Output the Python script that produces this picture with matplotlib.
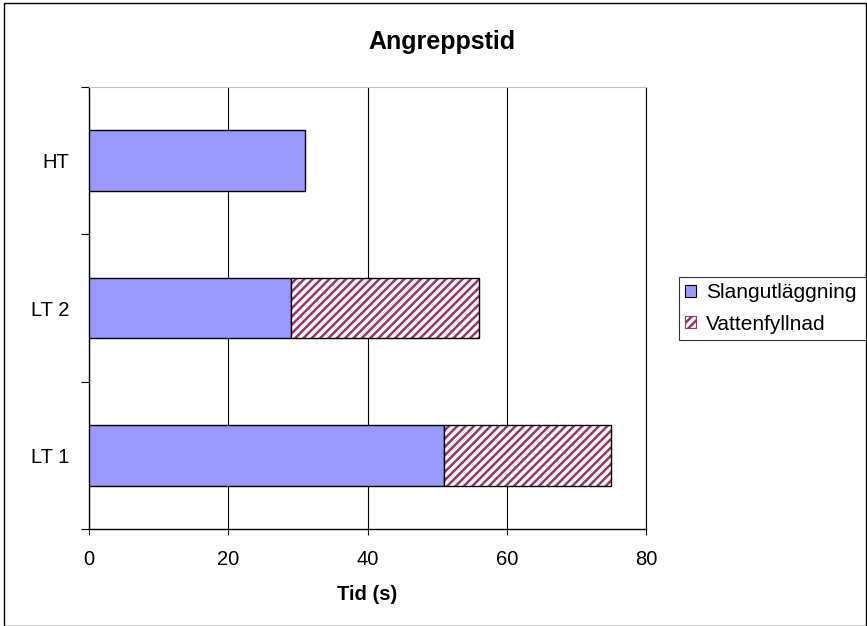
import matplotlib
matplotlib.use("Agg")
import matplotlib.pyplot as plt
from matplotlib.patches import Rectangle, Patch

plt.rcParams['font.family'] = ['Liberation Sans', 'DejaVu Sans']
plt.rcParams['hatch.linewidth'] = 1.8

categories = ['LT 1', 'LT 2', 'HT']
slangutlaggning = [51, 29, 31]
vattenfyllnad = [24, 27, 0]
x_ticks = [0, 20, 40, 60, 80]

blue = '#9999FF'
maroon = '#993366'

fig = plt.figure(figsize=(8.67, 6.26), dpi=100)
ax = fig.add_axes([89 / 867, 97 / 626, (646 - 89) / 867, (529 - 87) / 626])

ypos = list(range(len(categories)))
h = 0.41
ax.barh(ypos, slangutlaggning, height=h, color=blue, edgecolor='black',
        linewidth=1.0, zorder=3)
# hatched part: stripes first, then a black outline on top
ax.barh(ypos, vattenfyllnad, left=slangutlaggning, height=h, color='white',
        edgecolor=maroon, hatch='////', linewidth=0, zorder=3)
for y, l, w in zip(ypos, slangutlaggning, vattenfyllnad):
    if w > 0:
        ax.add_patch(Rectangle((l, y - h / 2), w, h, fill=False,
                               edgecolor='black', linewidth=1.0, zorder=4))

ax.set_xlim(0, 80)
ax.set_ylim(-0.5, len(categories) - 0.5)
ax.set_xticks(x_ticks)
ax.set_xticklabels([str(t) for t in x_ticks], fontsize=14.5)
ax.set_yticks(ypos)
ax.set_yticklabels(categories, fontsize=14.5)
ax.set_yticks([-0.5, 0.5, 1.5, 2.5], minor=True)
ax.tick_params(axis='y', which='major', length=0, pad=14)
ax.tick_params(axis='y', which='minor', length=6, width=0.8, direction='out')
ax.tick_params(axis='x', length=4, width=0.8, direction='out', pad=11)

ax.grid(axis='x', color='black', linewidth=0.8, zorder=0)
ax.spines['top'].set_color('#c0c0c0')
ax.spines['top'].set_linewidth(0.8)
ax.spines['right'].set_linewidth(0.8)
for s in ['left', 'bottom']:
    ax.spines[s].set_linewidth(1.0)

ax.set_xlabel('Tid (s)', fontsize=14.5, fontweight='bold', labelpad=12)
fig.text(442 / 867, 1 - 42 / 626, 'Angreppstid', ha='center',
         va='center', fontsize=18, fontweight='bold')

handles = [Patch(facecolor=blue, edgecolor='black', linewidth=0.8),
           Patch(facecolor='white', edgecolor=maroon, hatch='////', linewidth=0.8)]
leg = fig.legend(handles, ['Slangutläggning', 'Vattenfyllnad'],
                 loc='lower left', mode='expand',
                 bbox_to_anchor=(679 / 867, 1 - 340 / 626, (866 - 679) / 867, 63 / 626),
                 fontsize=15, frameon=True, fancybox=False, edgecolor='black',
                 handlelength=0.5, handleheight=0.5, handletextpad=0.5,
                 borderpad=0.3, labelspacing=0.6, borderaxespad=0)
leg.get_frame().set_linewidth(0.8)

fig.patches.append(Rectangle((4 / 867, 0.5 / 626), 862 / 867, 623 / 626,
                             transform=fig.transFigure, fill=False,
                             edgecolor='black', linewidth=1.0))

fig.savefig('out.png', dpi=100)
